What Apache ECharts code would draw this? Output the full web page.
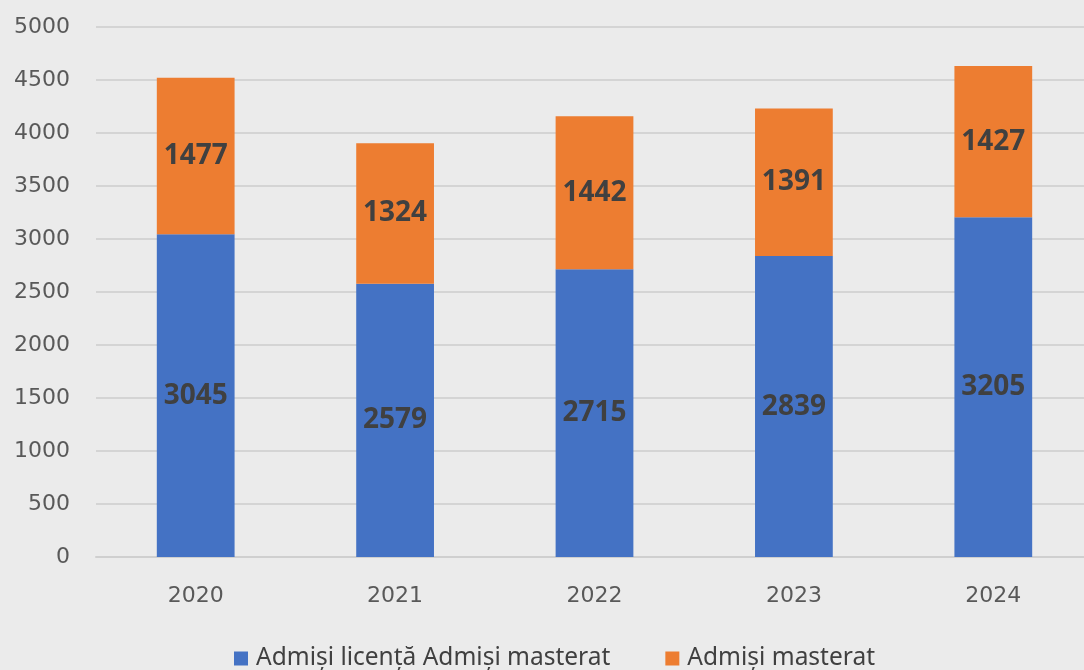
<!DOCTYPE html>
<html>
<head>
<meta charset="utf-8">
<script src="https://cdn.jsdelivr.net/npm/echarts@6/dist/echarts.min.js"></script>
<style>
  html, body { margin: 0; padding: 0; background: #ebebeb; overflow: hidden; }
  #myChart { width: 1093px; height: 670px; }
</style>
</head>
<body>
<div id="myChart"></div>
<script>
  var years = ['2020', '2021', '2022', '2023', '2024']
  var licenta = [3045, 2579, 2715, 2839, 3205]
  var masterat = [1477, 1324, 1442, 1391, 1427]
  var seriesNames = ['Admiși licență Admiși masterat', 'Admiși masterat']

  var labelStyle = {
    show: true,
    position: 'inside',
    color: '#404040',
    fontSize: 28,
    fontWeight: 'bold',
    fontFamily: 'Noto Sans'
  }

  var myChart = echarts.init(document.getElementById('myChart'))
  myChart.setOption({
    backgroundColor: '#ebebeb',
    animation: false,
    textStyle: { fontFamily: 'Noto Sans' },
    grid: { left: 96, top: 27, right: 0, height: 530, containLabel: false },
    legend: {
      top: 641,
      left: 229,
      itemWidth: 14,
      itemHeight: 14,
      itemGap: 55,
      icon: 'rect',
      textStyle: { fontSize: 24.5, color: '#404040', fontFamily: 'Noto Sans', padding: [0, 0, 0, 3] },
      data: seriesNames
    },
    xAxis: {
      type: 'category',
      data: years,
      axisLine: { lineStyle: { color: '#cfcfcf', width: 2 } },
      axisTick: { show: false },
      axisLabel: { color: '#595959', fontSize: 22, margin: 28, fontFamily: 'DejaVu Sans' }
    },
    yAxis: {
      type: 'value',
      min: 0,
      max: 5000,
      interval: 500,
      axisLine: { show: false },
      axisTick: { show: false },
      splitLine: { lineStyle: { color: '#d4d4d4', width: 2 } },
      axisLabel: {
        color: '#595959',
        fontSize: 22,
        margin: 26,
        fontFamily: 'DejaVu Sans',
        formatter: function (v) { return String(v) }
      }
    },
    series: [
      {
        name: seriesNames[0],
        type: 'bar',
        stack: 'total',
        barWidth: '39%',
        data: licenta,
        itemStyle: { color: '#4472c4' },
        label: labelStyle
      },
      {
        name: seriesNames[1],
        type: 'bar',
        stack: 'total',
        data: masterat,
        itemStyle: { color: '#ed7d31' },
        label: labelStyle
      }
    ]
  })
</script>
</body>
</html>
